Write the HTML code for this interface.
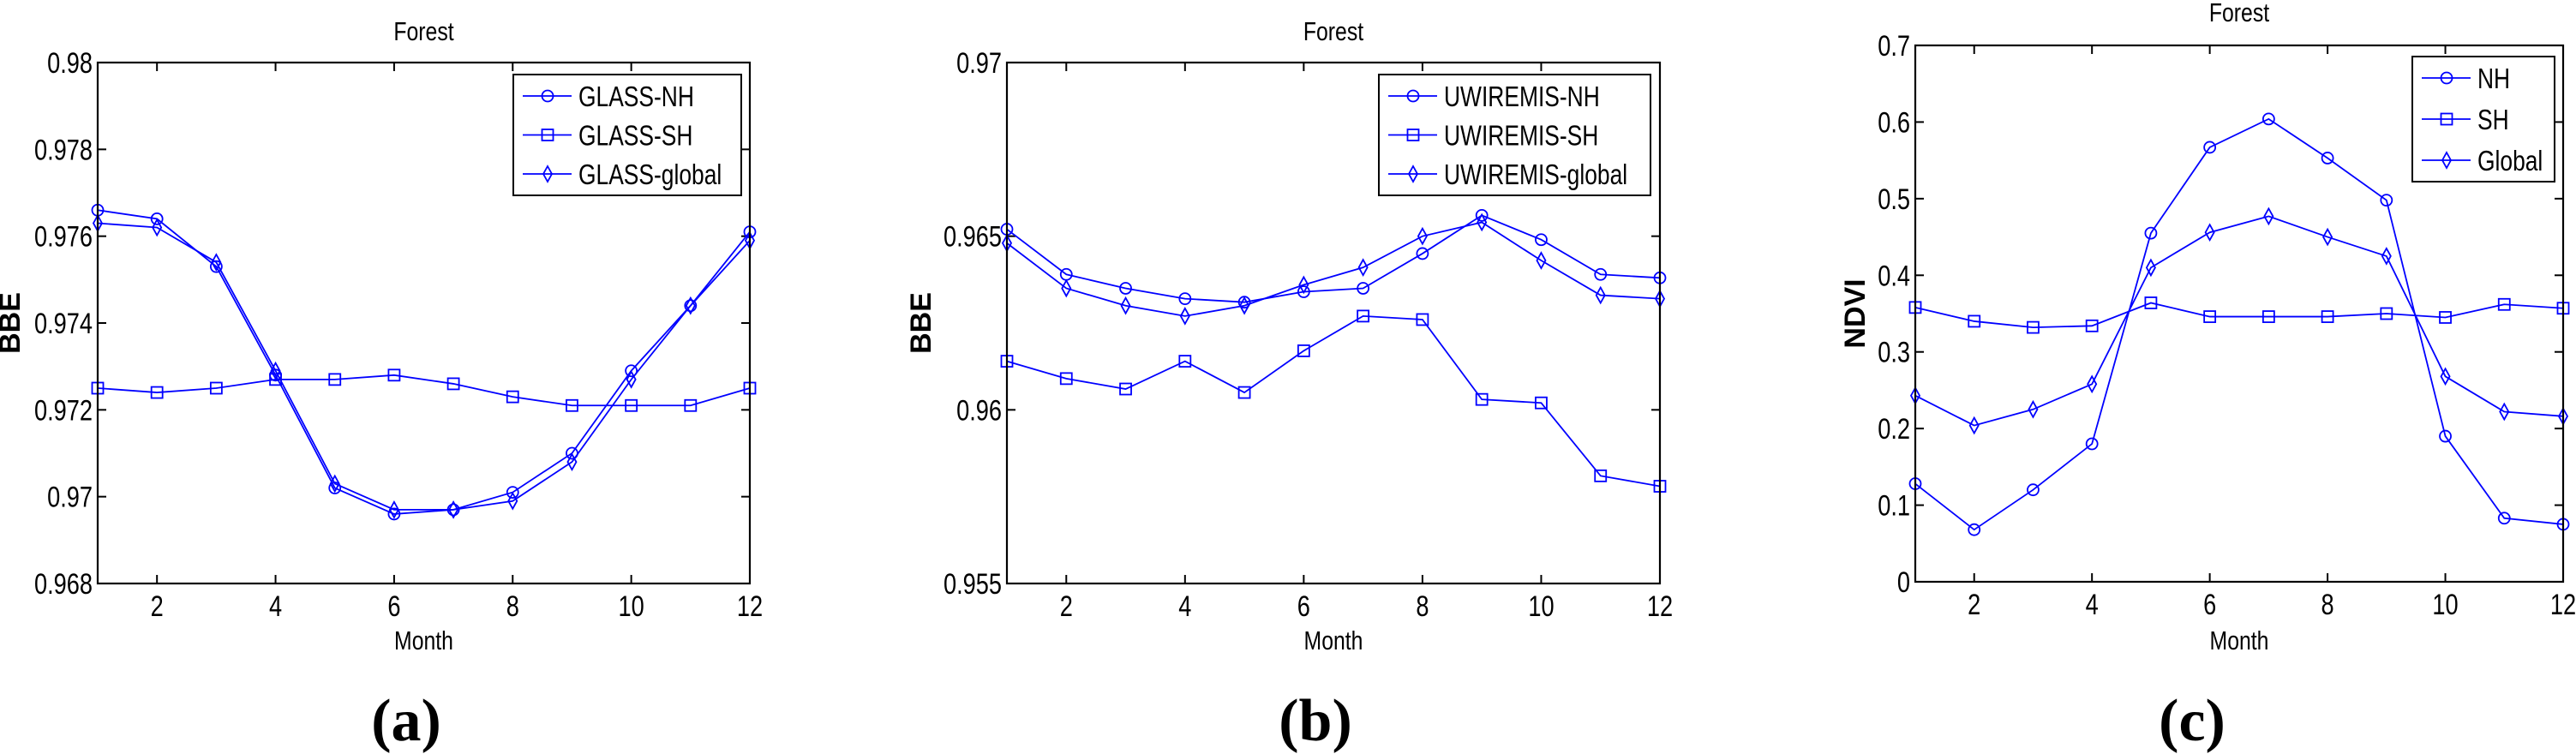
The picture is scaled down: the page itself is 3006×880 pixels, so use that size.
<!DOCTYPE html>
<html><head><meta charset="utf-8"><style>
html,body{margin:0;padding:0;background:#fff;}
svg{display:block;}
</style></head><body>
<svg id="fig" width="3006" height="880" viewBox="0 0 3006 880" xmlns="http://www.w3.org/2000/svg"></svg>
<script>
const months = [1,2,3,4,5,6,7,8,9,10,11,12];
const xTicks = [2,4,6,8,10,12];
const aNH = [0.9766,0.9764,0.9753,0.9728,0.9702,0.9696,0.9697,0.9701,0.9710,0.9729,0.9744,0.9761];
const aSH = [0.9725,0.9724,0.9725,0.9727,0.9727,0.9728,0.9726,0.9723,0.9721,0.9721,0.9721,0.9725];
const aGL = [0.9763,0.9762,0.9754,0.9729,0.9703,0.9697,0.9697,0.9699,0.9708,0.9727,0.9744,0.9759];
const aYTicks = [0.968,0.970,0.972,0.974,0.976,0.978,0.980];
const aYLabels = ["0.968","0.97","0.972","0.974","0.976","0.978","0.98"];
const bNH = [0.9652,0.9639,0.9635,0.9632,0.9631,0.9634,0.9635,0.9645,0.9656,0.9649,0.9639,0.9638];
const bSH = [0.9614,0.9609,0.9606,0.9614,0.9605,0.9617,0.9627,0.9626,0.9603,0.9602,0.9581,0.9578];
const bGL = [0.9648,0.9635,0.9630,0.9627,0.9630,0.9636,0.9641,0.9650,0.9654,0.9643,0.9633,0.9632];
const bYTicks = [0.955,0.960,0.965,0.970];
const bYLabels = ["0.955","0.96","0.965","0.97"];
const cNH = [0.128,0.068,0.120,0.180,0.455,0.567,0.604,0.553,0.498,0.190,0.083,0.075];
const cSH = [0.358,0.340,0.332,0.334,0.364,0.346,0.346,0.346,0.350,0.345,0.362,0.357];
const cGL = [0.243,0.204,0.225,0.258,0.410,0.456,0.477,0.450,0.425,0.268,0.222,0.216];
const cYTicks = [0,0.1,0.2,0.3,0.4,0.5,0.6,0.7];
const cYLabels = ["0","0.1","0.2","0.3","0.4","0.5","0.6","0.7"];

const NS = "http://www.w3.org/2000/svg";
const svg = document.getElementById("fig");
const BLUE = "#0000ff";
function mk(tag, attrs, parent){
  const e = document.createElementNS(NS, tag);
  for (const k in attrs) e.setAttribute(k, attrs[k]);
  (parent||svg).appendChild(e);
  return e;
}
function txt(s, x, y, size, anchor, parent, opts){
  opts = opts||{};
  const t = mk("text", {x:0, y:0, "font-family": opts.serif ? "'Liberation Serif', serif" : "'Liberation Sans', sans-serif",
    "font-size": size, "text-anchor": anchor, "font-weight": opts.bold ? "bold" : "normal", fill:"#000",
    transform: opts.rot ? `translate(${x},${y}) rotate(-90)` : `translate(${x},${y}) scale(${opts.sx||0.8},1)`}, parent);
  t.textContent = s;
  return t;
}
function marker(kind, x, y, g){
  let m;
  if (kind === "o") m = mk("ellipse", {cx:x, cy:y, rx:6.5, ry:6.5, fill:"none", stroke:BLUE, "stroke-width":1.8}, g);
  else if (kind === "s") m = mk("rect", {x:x-6.5, y:y-6.5, width:13, height:13, fill:"none", stroke:BLUE, "stroke-width":1.8}, g);
  else m = mk("polygon", {points:`${x},${y-9} ${x+5},${y} ${x},${y+9} ${x-5},${y}`, fill:"none", stroke:BLUE, "stroke-width":1.8}, g);
  return m;
}
function panel(cfg){
  const g = mk("g", {});
  
  
  const L=cfg.L, R=cfg.R, T=cfg.T, B=cfg.B;
  const X = v => L + (v-1)/(12-1)*(R-L);
  const Y = v => B - (v-cfg.ymin)/(cfg.ymax-cfg.ymin)*(B-T);
  // ticks
  const tg = mk("g", {stroke:"#000","stroke-width":2}, g);
  
  
  xTicks.forEach(v => {
    mk("line",{x1:X(v),y1:B,x2:X(v),y2:B-10},tg);
    mk("line",{x1:X(v),y1:T,x2:X(v),y2:T+10},tg);
    const t = txt(String(v), X(v), B+38, 34, "middle", g);
    
    
  });
  cfg.yTicks.forEach((v,i) => {
    mk("line",{x1:L,y1:Y(v),x2:L+10,y2:Y(v)},tg);
    mk("line",{x1:R,y1:Y(v),x2:R-10,y2:Y(v)},tg);
    const t = txt(cfg.yLabels[i], L-6, Y(v)+12, 34, "end", g);
    
    
  });
  // series
  cfg.series.forEach(s => {
    const sg = mk("g", {}, g);
    
    
    const pts = s.data.map((v,i)=>`${X(months[i])},${Y(v)}`).join(" ");
    mk("polyline",{points:pts, fill:"none", stroke:BLUE, "stroke-width":1.8}, sg);
    s.data.forEach((v,i)=>marker(s.m, X(months[i]), Y(v), sg));
  });
  // axes box
  const box = mk("rect",{x:L,y:T,width:R-L,height:B-T,fill:"none",stroke:"#000","stroke-width":2.2},g);
  
  
  // legend
  const lg = mk("g", {}, g);
  
  
  const [lx0,ly0,lx1,ly1] = cfg.leg;
  mk("rect",{x:lx0,y:ly0,width:lx1-lx0,height:ly1-ly0,fill:"#fff",stroke:"#000","stroke-width":2},lg);
  cfg.series.forEach((s,i)=>{
    const yy = ly0 + 25 + i*(ly1-ly0-50)/2;
    const eg = mk("g",{},lg);
    
    
    mk("line",{x1:lx0+11,y1:yy,x2:lx0+68,y2:yy,stroke:BLUE,"stroke-width":1.8},eg);
    marker(s.m, lx0+40, yy, eg);
    txt(s.label, lx0+76, yy+12, 33, "start", eg);
  });
  // labels
  const ti = txt("Forest", (L+R)/2, cfg.titleY, 31, "middle", g);
  
  
  const xl = txt("Month", (L+R)/2, 758, 31, "middle", g);
  
  
  const yl = txt(cfg.ylabel, cfg.ylx, (T+B)/2, 34, "middle", g, {rot:true, bold:true});
  
  
  const pl = txt(cfg.tag, cfg.tagX, 864, 70, "middle", g, {serif:true, bold:true, sx:1});
  
  
}
panel({name:"panel-a", L:114, R:875, T:73, B:681, ymin:0.968, ymax:0.98, yTicks:aYTicks, yLabels:aYLabels,
  series:[{name:"series-glass-nh",label:"GLASS-NH",m:"o",data:aNH},{name:"series-glass-sh",label:"GLASS-SH",m:"s",data:aSH},{name:"series-glass-global",label:"GLASS-global",m:"d",data:aGL}],
  leg:[599,87,865,228], titleY:47, ylabel:"BBE", ylx:23, tag:"(a)", tagX:474});
panel({name:"panel-b", L:1175, R:1937, T:73, B:681, ymin:0.955, ymax:0.97, yTicks:bYTicks, yLabels:bYLabels,
  series:[{name:"series-uwiremis-nh",label:"UWIREMIS-NH",m:"o",data:bNH},{name:"series-uwiremis-sh",label:"UWIREMIS-SH",m:"s",data:bSH},{name:"series-uwiremis-global",label:"UWIREMIS-global",m:"d",data:bGL}],
  leg:[1609,87,1926,228], titleY:47, ylabel:"BBE", ylx:1086, tag:"(b)", tagX:1535});
panel({name:"panel-c", L:2235, R:2991, T:53, B:679, ymin:0, ymax:0.7, yTicks:cYTicks, yLabels:cYLabels,
  series:[{name:"series-nh",label:"NH",m:"o",data:cNH},{name:"series-sh",label:"SH",m:"s",data:cSH},{name:"series-global",label:"Global",m:"d",data:cGL}],
  leg:[2815,66,2981,212], titleY:25, ylabel:"NDVI", ylx:2176, tag:"(c)", tagX:2558});
</script>
</body></html>
